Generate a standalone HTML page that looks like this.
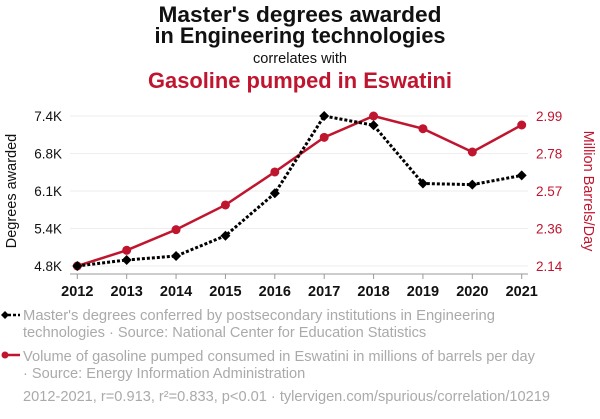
<!DOCTYPE html>
<html><head><meta charset="utf-8"><style>
body{margin:0;background:#fff;width:600px;height:414px;overflow:hidden;font-family:"Liberation Sans",Arial,sans-serif}
</style></head><body>
<svg id="chart" width="600" height="414" xmlns="http://www.w3.org/2000/svg" font-family="Liberation Sans, Arial, sans-serif">
<text x="300" y="22" text-anchor="middle" font-size="22.5" font-weight="bold" fill="#111" textLength="283" lengthAdjust="spacingAndGlyphs">Master's degrees awarded</text>
<text x="300" y="43" text-anchor="middle" font-size="22.5" font-weight="bold" fill="#111" textLength="291" lengthAdjust="spacingAndGlyphs">in Engineering technologies</text>
<text x="300" y="63" text-anchor="middle" font-size="14.5" fill="#111" textLength="94" lengthAdjust="spacingAndGlyphs">correlates with</text>
<text x="300" y="88" text-anchor="middle" font-size="22.5" font-weight="bold" fill="#c0152f" textLength="304" lengthAdjust="spacingAndGlyphs">Gasoline pumped in Eswatini</text>
<text transform="translate(16,191) rotate(-90)" text-anchor="middle" font-size="14.5" fill="#111">Degrees awarded</text>
<text transform="translate(584,191) rotate(90)" text-anchor="middle" font-size="14.5" fill="#c0152f">Million Barrels/Day</text>
<g id="grid"></g><g id="axes"></g><g id="marks"></g>
<g font-size="14.6" fill="#aaa">
<line x1="3" y1="315" x2="20" y2="315" stroke="#000" stroke-width="2.5" stroke-dasharray="3,2"/>
<path d="M1 315 L5 311 L9 315 L5 319Z" fill="#000"/>
<text x="23" y="320" textLength="472" lengthAdjust="spacingAndGlyphs">Master's degrees conferred by postsecondary institutions in Engineering</text>
<text x="23" y="337">technologies · Source: National Center for Education Statistics</text>
<line x1="3" y1="355" x2="20" y2="355" stroke="#c0152f" stroke-width="2.5"/>
<circle cx="5" cy="355" r="3.5" fill="#c0152f"/>
<text x="23" y="361" textLength="512" lengthAdjust="spacingAndGlyphs">Volume of gasoline pumped consumed in Eswatini in millions of barrels per day</text>
<text x="23" y="378">· Source: Energy Information Administration</text>
<text x="23" y="401" textLength="527" lengthAdjust="spacingAndGlyphs">2012-2021, r=0.913, r²=0.833, p&lt;0.01 · tylervigen.com/spurious/correlation/10219</text>
</g>
</svg>
<script>
const years=[2012,2013,2014,2015,2016,2017,2018,2019,2020,2021];
const degrees=[4.8,4.904,4.973,5.325,6.06,7.4,7.24,6.23,6.21,6.37];
const gasoline=[2.14,2.229,2.346,2.486,2.673,2.869,2.99,2.918,2.786,2.939];
const leftTicks=[4.8,5.45,6.1,6.75,7.4];
const leftTickLabels=["4.8K","5.4K","6.1K","6.8K","7.4K"];
const rightTicks=[2.14,2.3525,2.565,2.7775,2.99];
const rightTickLabels=["2.14","2.36","2.57","2.78","2.99"];
const NS="http://www.w3.org/2000/svg";
const X=i=>77.3+(521.7-77.3)*(years[i]-2012)/9;
const YL=v=>266-(v-4.8)/(7.4-4.8)*150;
const YR=v=>266-(v-2.14)/(2.99-2.14)*150;
function mk(p,t,a){const e=document.createElementNS(NS,t);for(const k in a)e.setAttribute(k,a[k]);document.getElementById(p).appendChild(e);return e;}
leftTicks.forEach((v,i)=>{
 const y=YL(v);
 const g=mk('grid','line',{x1:70,x2:528,y1:y,y2:y,stroke:'#eee','stroke-width':1});
 
 
 const t=mk('axes','text',{x:62,y:y+5,'text-anchor':'end','font-size':13.5,fill:'#111'});t.textContent=leftTickLabels[i];
 
 
});
rightTicks.forEach((v,i)=>{
 const t=mk('axes','text',{x:536,y:YR(v)+5,'font-size':13.5,fill:'#c0152f'});t.textContent=rightTickLabels[i];
 
 
});
const ax=mk('axes','line',{x1:70,x2:528,y1:274,y2:274,stroke:'#999','stroke-width':1});


years.forEach((yr,i)=>{
 mk('axes','line',{x1:X(i),x2:X(i),y1:274,y2:279,stroke:'#999'});
 const t=mk('axes','text',{x:X(i),y:296,'text-anchor':'middle','font-size':14.5,'font-weight':'bold',fill:'#111'});t.textContent=yr;
 
 
});
const rl=mk('marks','polyline',{points:gasoline.map((v,i)=>X(i)+','+YR(v)).join(' '),fill:'none',stroke:'#c0152f','stroke-width':2.5});


gasoline.forEach((v,i)=>{const c=mk('marks','circle',{cx:X(i),cy:YR(v),r:4.5,fill:'#c0152f'});
 
 });
const bl=mk('marks','polyline',{points:degrees.map((v,i)=>X(i)+','+YL(v)).join(' '),fill:'none',stroke:'#000','stroke-width':3,'stroke-dasharray':'3,2'});


degrees.forEach((v,i)=>{const x=X(i),y=YL(v);const d=mk('marks','path',{d:`M${x-5} ${y}L${x} ${y-5}L${x+5} ${y}L${x} ${y+5}Z`,fill:'#000'});
 
 });
</script>
</body></html>
